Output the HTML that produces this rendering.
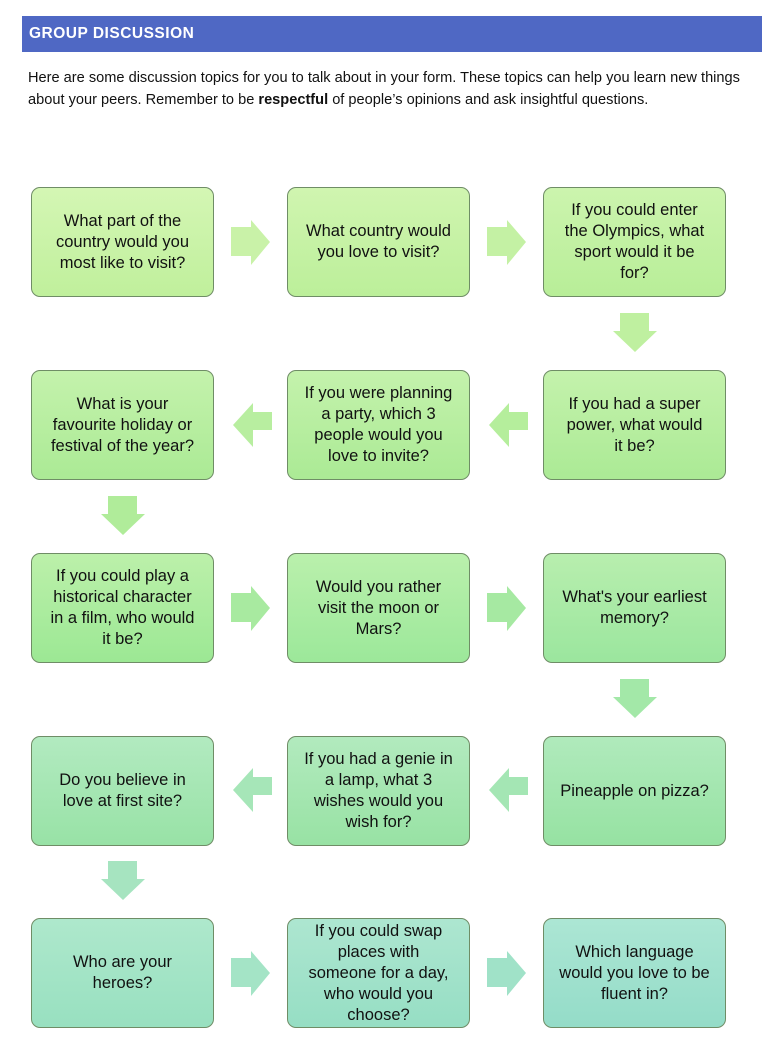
<!DOCTYPE html>
<html><head><meta charset="utf-8"><style>
body{margin:0;width:778px;height:1064px;background:#fff;position:relative;font-family:"Liberation Sans",sans-serif;overflow:hidden}
.hdr{position:absolute;left:22px;top:16px;width:740px;height:36px;background:#4f68c4;color:#fff;font-weight:bold;font-size:15.5px;line-height:36px;padding-left:7px;box-sizing:border-box;letter-spacing:0.5px}
.p{position:absolute;left:28px;top:67px;font-size:14.6px;line-height:22px;color:#111;white-space:nowrap}
.b{position:absolute;width:183px;height:110px;border:1px solid #6f8d66;border-radius:9px;box-sizing:border-box;display:flex;align-items:center;justify-content:center;text-align:center;font-size:16.5px;line-height:21px;color:#111;white-space:nowrap}
svg{position:absolute;left:0;top:0}
</style></head><body>
<div class="hdr">GROUP DISCUSSION</div>
<div class="p">Here are some discussion topics for you to talk about in your form. These topics can help you learn new things<br>about your peers. Remember to be <b>respectful</b> of people’s opinions and ask insightful questions.</div>
<svg width="778" height="1064">
<polygon points="231,227 251,227 251,220 270,242 251,265 251,256 231,256" fill="#c9f2a8"/>
<polygon points="487,227 507,227 507,220 526,242 507,265 507,256 487,256" fill="#c4f1a4"/>
<polygon points="620,313 649,313 649,331 657,331 635,352 613,331 620,331" fill="#bff0a0"/>
<polygon points="272,412 253,412 253,403 233,425 253,447 253,430 272,430" fill="#b8eea0"/>
<polygon points="528,412 509,412 509,403 489,425 509,447 509,430 528,430" fill="#b5ee9c"/>
<polygon points="108,496 137,496 137,514 145,514 123,535 101,514 108,514" fill="#b0ec9a"/>
<polygon points="231,593 251,593 251,586 270,608 251,631 251,622 231,622" fill="#a8eaa0"/>
<polygon points="487,593 507,593 507,586 526,608 507,631 507,622 487,622" fill="#a6e9a2"/>
<polygon points="620,679 649,679 649,697 657,697 635,718 613,697 620,697" fill="#a3e8a8"/>
<polygon points="272,777 253,777 253,768 233,790 253,812 253,795 272,795" fill="#a6e6b8"/>
<polygon points="528,777 509,777 509,768 489,790 509,812 509,795 528,795" fill="#a4e6b4"/>
<polygon points="108,861 137,861 137,879 145,879 123,900 101,879 108,879" fill="#a6e4c0"/>
<polygon points="231,958 251,958 251,951 270,973 251,996 251,987 231,987" fill="#a4e4c6"/>
<polygon points="487,958 507,958 507,951 526,973 507,996 507,987 487,987" fill="#a0e2c8"/>
</svg>
<div class="b" style="left:31px;top:187px;background:linear-gradient(#d4f6b4,#c0f09c)">What part of the<br>country would you<br>most like to visit?</div>
<div class="b" style="left:287px;top:187px;background:linear-gradient(#d0f5b0,#bcef9a)">What country would<br>you love to visit?</div>
<div class="b" style="left:543px;top:187px;background:linear-gradient(#ccf4ae,#b8ee98)">If you could enter<br>the Olympics, what<br>sport would it be<br>for?</div>
<div class="b" style="left:31px;top:370px;background:linear-gradient(#c4f2ac,#abea95)">What is your<br>favourite holiday or<br>festival of the year?</div>
<div class="b" style="left:287px;top:370px;background:linear-gradient(#c4f2ac,#abea95)">If you were planning<br>a party, which 3<br>people would you<br>love to invite?</div>
<div class="b" style="left:543px;top:370px;background:linear-gradient(#c4f2ac,#abea95)">If you had a super<br>power, what would<br>it be?</div>
<div class="b" style="left:31px;top:553px;background:linear-gradient(#bcf0aa,#9ce894)">If you could play a<br>historical character<br>in a film, who would<br>it be?</div>
<div class="b" style="left:287px;top:553px;background:linear-gradient(#baf0ac,#9ce89a)">Would you rather<br>visit the moon or<br>Mars?</div>
<div class="b" style="left:543px;top:553px;background:linear-gradient(#b8eeae,#9be69e)">What's your earliest<br>memory?</div>
<div class="b" style="left:31px;top:736px;background:linear-gradient(#b2eac0,#98e2a6)">Do you believe in<br>love at first site?</div>
<div class="b" style="left:287px;top:736px;background:linear-gradient(#b2eabe,#98e2a4)">If you had a genie in<br>a lamp, what 3<br>wishes would you<br>wish for?</div>
<div class="b" style="left:543px;top:736px;background:linear-gradient(#b0eabc,#96e2a2)">Pineapple on pizza?</div>
<div class="b" style="left:31px;top:918px;background:linear-gradient(#aee8cc,#98e0c0)">Who are your<br>heroes?</div>
<div class="b" style="left:287px;top:918px;background:linear-gradient(#ade6d0,#96dec4)">If you could swap<br>places with<br>someone for a day,<br>who would you<br>choose?</div>
<div class="b" style="left:543px;top:918px;background:linear-gradient(#ace6d4,#94dcc8)">Which language<br>would you love to be<br>fluent in?</div>
</body></html>
